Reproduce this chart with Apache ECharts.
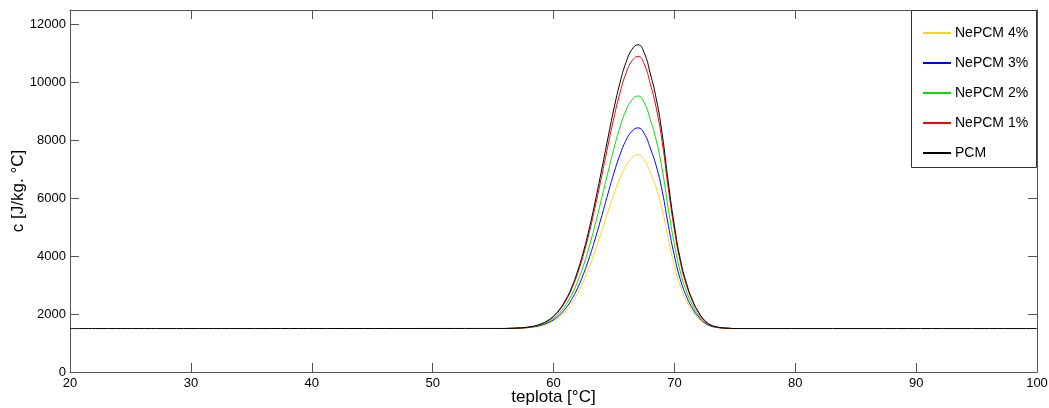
<!DOCTYPE html>
<html>
<head>
<meta charset="utf-8">
<script src="https://cdn.jsdelivr.net/npm/echarts@6/dist/echarts.min.js"></script>
<style>
html,body{margin:0;padding:0;background:#fff;}
#chart{width:1049px;height:408px;}
</style>
</head>
<body>
<div id="chart"></div>
<script>
// Temperature grid (°C)
const temps = [56,56.5,57,57.5,58,58.5,59,59.5,60,60.5,61,61.5,62,62.5,63,63.5,64,64.5,65,65.5,66,66.5,67,67.5,68,68.5,69,69.5,70,70.5,71,71.5,72,72.5,73,73.5,74,74.5,75];

// Specific heat c [J/kg.°C]
const nepcm4 = [1502,1505,1510,1519,1534,1560,1601,1666,1763,1905,2104,2372,2718,3150,3663,4248,4878,5526,6150,6696,7128,7404,7500,7332,6900,6360,5598,4584,3678,2958,2460,2100,1848,1674,1578,1536,1515,1506,1500];
const nepcm3 = [1503,1506,1512,1522,1540,1569,1617,1692,1804,1968,2198,2507,2907,3406,3998,4674,5402,6150,6871,7501,8000,8319,8430,8236,7737,7113,6233,5062,4016,3184,2609,2193,1902,1701,1590,1542,1517,1507,1500];
const nepcm2 = [1503,1507,1514,1526,1546,1580,1636,1722,1853,2042,2309,2667,3130,3708,4395,5178,6021,6888,7723,8454,9032,9402,9530,9305,8727,8004,6984,5627,4415,3451,2785,2303,1966,1733,1604,1548,1520,1508,1500];
const nepcm1 = [1504,1508,1516,1530,1554,1594,1659,1760,1913,2135,2447,2866,3408,4085,4889,5805,6792,7807,8785,9640,10317,10750,10900,10637,9960,9114,7920,6332,4912,3784,3004,2440,2045,1773,1622,1556,1524,1509,1500];
const pcm    = [1504,1509,1517,1531,1556,1598,1666,1771,1930,2162,2487,2924,3489,4195,5033,5988,7017,8076,9095,9987,10692,11143,11300,11026,10320,9438,8193,6537,5057,3881,3068,2480,2068,1784,1627,1559,1525,1510,1500];

// PCM baseline outside the transition
const pcmBaseStartT = 20;
const pcmBaseEndT = 100;
const pcmBaseValue = 1500;

const seriesNames = ['NePCM 4%','NePCM 3%','NePCM 2%','NePCM 1%','PCM'];
const seriesColors = ['#ffd21f','#0000ff','#00e000','#ff0000','#000000'];

// Axis ticks
const xTicks = {min:20, max:100, interval:10};
const yTicks = {min:0, max:12500, interval:2000, lastLabel:12000};

const pair = (arr) => temps.map((t,i)=>[t,arr[i]]);
const pcmData = [[pcmBaseStartT,pcmBaseValue]].concat(pair(pcm)).concat([[pcmBaseEndT,pcmBaseValue]]);
const allData = [pair(nepcm4),pair(nepcm3),pair(nepcm2),pair(nepcm1),pcmData];

const FONT = 'Arial, "Liberation Sans", sans-serif';
const frameColor = '#555';

const chart = echarts.init(document.getElementById('chart'), null, {renderer:'canvas'});
chart.setOption({
  animation:false,
  backgroundColor:'#fff',
  grid:{left:70, right:12, top:10, bottom:36, containLabel:false, outerBoundsMode:'none'},
  xAxis:[{
    type:'value', min:xTicks.min, max:xTicks.max, interval:xTicks.interval,
    name:'teplota [°C]', nameLocation:'middle', nameGap:17, nameMoveOverlap:false,
    nameTextStyle:{fontFamily:FONT, fontSize:17, color:'#000'},
    axisLine:{show:true, lineStyle:{color:frameColor, width:1}},
    axisTick:{show:true, inside:true, length:9, lineStyle:{color:frameColor}},
    axisLabel:{fontFamily:FONT, fontSize:13, color:'#000', margin:5},
    splitLine:{show:false}
  },{
    type:'value', position:'top', min:xTicks.min, max:xTicks.max, interval:xTicks.interval,
    axisLine:{show:true, onZero:false, lineStyle:{color:frameColor, width:1}},
    axisTick:{show:true, inside:true, length:9, lineStyle:{color:frameColor}},
    axisLabel:{show:false}, splitLine:{show:false}
  }],
  yAxis:[{
    type:'value', min:yTicks.min, max:yTicks.max, interval:yTicks.interval,
    name:'c [J/kg. °C]', nameLocation:'middle', nameGap:43, nameRotate:90, nameMoveOverlap:false,
    nameTextStyle:{fontFamily:FONT, fontSize:17, color:'#000'},
    axisLine:{show:true, lineStyle:{color:frameColor, width:1}},
    axisTick:{show:true, inside:true, length:9, lineStyle:{color:frameColor}},
    axisLabel:{fontFamily:FONT, fontSize:13, color:'#000', margin:4,
      formatter:(v)=> v>yTicks.lastLabel ? '' : String(v)},
    splitLine:{show:false}
  },{
    type:'value', position:'right', min:yTicks.min, max:yTicks.max, interval:yTicks.interval,
    axisLine:{show:true, onZero:false, lineStyle:{color:frameColor, width:1}},
    axisTick:{show:true, inside:true, length:9, lineStyle:{color:frameColor}},
    axisLabel:{show:false}, splitLine:{show:false}
  }],
  legend:{
    orient:'vertical', left:917, top:21,
    itemWidth:28, itemHeight:14, itemGap:16,
    itemStyle:{opacity:0},
    textStyle:{fontFamily:FONT, fontSize:14, color:'#000', padding:[0,0,0,-1]},
    data:seriesNames, z:10
  },
  graphic:[{
    type:'rect', z:5, silent:true,
    shape:{x:911.5, y:10.5, width:125, height:157},
    style:{fill:'#fff', stroke:'#333', lineWidth:1}
  }],
  series: seriesNames.map((n,i)=>({
    name:n, type:'line', data:allData[i],
    xAxisIndex:0, yAxisIndex:0,
    symbol:'none', smooth:0.5,
    lineStyle:{color:seriesColors[i], width:1},
    itemStyle:{color:seriesColors[i]},
    z:2+i
  }))
});
</script>
</body>
</html>
